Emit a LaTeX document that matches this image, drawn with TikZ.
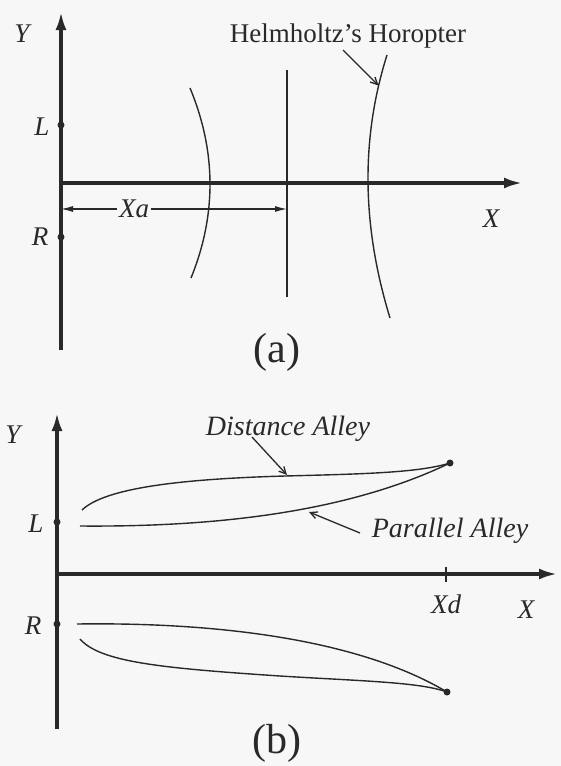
\documentclass[tikz,border=0pt]{standalone}
\usepackage{fontspec}
\setmainfont{Liberation Serif}
\usetikzlibrary{arrows.meta}
\definecolor{ink}{gray}{0.16}
\definecolor{paper}{gray}{0.97}
\begin{document}
\begin{tikzpicture}[x=1pt,y=-1pt,
  axis/.style={line width=3.2pt, draw=ink, -{Latex[length=18pt,width=11pt]}},
  thin/.style={line width=1.4pt, draw=ink},
  dim/.style={line width=1.2pt, draw=ink, {Latex[length=12pt,width=6pt]}-{Latex[length=12pt,width=6pt]}},
  pointer/.style={line width=1.3pt, draw=ink, -{Straight Barb[length=7pt,width=7pt]}},
  dot/.style={circle, fill=ink, inner sep=0pt, minimum size=7pt},
  lab/.style={text=ink, font=\fontsize{27}{30}\selectfont\itshape, anchor=base, inner sep=0pt},
  rlab/.style={text=ink, font=\fontsize{27}{32}\selectfont, anchor=base, inner sep=0pt},
  captxt/.style={text=ink, font=\fontsize{42}{48}\selectfont, anchor=base, inner sep=0pt}
]
\fill[paper] (0,0) rectangle (561,766);
\useasboundingbox (0,0) rectangle (561,766);

% ---------------- panel (a) ----------------
\coordinate (ya0) at (61,350);
\coordinate (ya1) at (61,12);
\coordinate (xa0) at (61,183);
\coordinate (xa1) at (522,183);
\draw[axis] (ya0) -- (ya1);
\draw[axis] (xa0) -- (xa1);
\node[dot] (La) at (61,125) {};
\node[dot] (Ra) at (61,237) {};
\node[lab] (Ya) at (22,42) {Y};
\node[lab] (Llab) at (42,135) {L};
\node[lab] (Rlab) at (40,245) {R};
\node[lab] (Xlab) at (491,227) {X};

% left curve
\coordinate (lc0) at (190,88);
\coordinate (lc1) at (191,278);
\draw[thin] (lc0) .. controls (216.3,151.3) and (216.7,214.7) .. (lc1);
% vertical line
\coordinate (v0) at (287,70);
\coordinate (v1) at (287,297);
\draw[thin] (v0) -- (v1);
% right curve (Helmholtz horopter)
\coordinate (rc0) at (387,55);
\coordinate (rc1) at (390,318);
\draw[thin] (rc0) .. controls (360.7,138.3) and (361.7,225.7) .. (rc1);

% Xa dimension
\coordinate (d0) at (61,209);
\coordinate (d1) at (287,209);
\draw[dim] (d0) -- (d1);
\node[lab, fill=paper, inner xsep=2pt, anchor=center] (Xa) at (134,209) {Xa};

% Helmholtz label and pointer
\node[rlab] (helm) at (348,42) {Helmholtz's Horopter};
\coordinate (hp0) at (343,50);
\coordinate (hp1) at (378.5,85.5);
\draw[pointer] (hp0) -- (hp1);

\node[captxt] (capa) at (277,362) {(a)};

% ---------------- panel (b) ----------------
\coordinate (yb0) at (57,729);
\coordinate (yb1) at (57,413);
\coordinate (xb0) at (57,574);
\coordinate (xb1) at (557,574);
\draw[axis] (yb0) -- (yb1);
\draw[axis] (xb0) -- (xb1);
\node[dot] (Lb) at (57,522) {};
\node[dot] (Rb) at (57,624) {};
\node[lab] (Yb) at (13,443) {Y};
\node[lab] (Lblab) at (36,532) {L};
\node[lab] (Rblab) at (33,634) {R};
\node[lab] (Xblab) at (526,618) {X};
% Xd tick
\coordinate (t0) at (446,567);
\coordinate (t1) at (446,582);
\draw[line width=1.2pt, draw=ink] (t0) -- (t1);
\node[lab] (Xd) at (446,613) {Xd};

% end points
\node[dot] (Pu) at (450,463) {};
\node[dot] (Pd) at (447,692) {};

% upper pair
\coordinate (du0) at (82,510);
\coordinate (dum) at (285,476);
\draw[thin] (du0) .. controls (105,488) and (180,479) .. (dum)
                 .. controls (360,474) and (418,473) .. (Pu.center);
\coordinate (pu0) at (80,526);
\draw[thin] (pu0) .. controls (200,527) and (340,516) .. (Pu.center);

% lower pair
\coordinate (pl0) at (77,624);
\draw[thin] (pl0) .. controls (220,622) and (360,640) .. (Pd.center);
\coordinate (dl0) at (80,639);
\coordinate (dlm) at (280,676);
\draw[thin] (dl0) .. controls (100,662) and (160,668) .. (dlm)
                 .. controls (360,681) and (420,682) .. (Pd.center);

% labels and pointers
\node[lab, font=\fontsize{28}{32}\selectfont\itshape] (dist) at (288,435) {Distance Alley};
\coordinate (dp0) at (252,437);
\coordinate (dp1) at (287,475);
\draw[pointer] (dp0) -- (dp1);
\node[lab, font=\fontsize{28}{32}\selectfont\itshape] (par) at (450,537) {Parallel Alley};
\coordinate (pp0) at (360,533);
\coordinate (pp1) at (309,512);
\draw[pointer] (pp0) -- (pp1);

\node[captxt] (capb) at (277,753) {(b)};
\end{tikzpicture}
\end{document}
